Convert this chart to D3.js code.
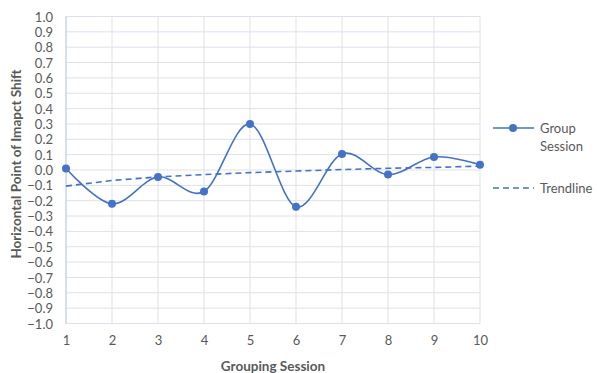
<!DOCTYPE html>
<html><head><meta charset="utf-8">
<script src="https://cdn.jsdelivr.net/npm/d3@7"></script>
<style>body{margin:0;background:#fff}svg{display:block}text{font-family:Lato,"Open Sans",sans-serif}</style>
</head><body>
<svg id="c" width="597" height="373"></svg>
<script>
const sessions = [1,2,3,4,5,6,7,8,9,10];
const groupSession = [0.01,-0.22,-0.045,-0.14,0.30,-0.24,0.105,-0.03,0.085,0.035];
const trendline = [-0.105,-0.068,-0.045,-0.03,-0.017,-0.007,0.003,0.011,0.017,0.025];
const yTicks = d3.range(-10,11).map(d=>d/10);

const svg = d3.select("#c");
const x = d3.scaleLinear().domain([1,10]).range([66,480]);
const y = d3.scaleLinear().domain([-1,1]).range([323.5,16.5]);
const grid = "#dde1ea", txt = "#595959", blue = "#4472c4";

const g = svg.append("g");
g.selectAll(".hg").data(yTicks).join("line")
  .attr("x1",x(1)).attr("x2",x(10)).attr("y1",d=>y(d)).attr("y2",d=>y(d))
  .attr("stroke",grid).attr("stroke-width",1);
g.selectAll(".vg").data(sessions.slice(1)).join("line")
  .attr("x1",d=>x(d)).attr("x2",d=>x(d)).attr("y1",y(1)).attr("y2",y(-1))
  .attr("stroke",grid).attr("stroke-width",1);
g.append("line").attr("x1",x(1)).attr("x2",x(1)).attr("y1",y(1)).attr("y2",y(-1))
  .attr("stroke","#c3cde3").attr("stroke-width",1.3);

const ya = d3.axisLeft(y).tickValues(yTicks).tickFormat(d3.format(".1f")).tickSize(0).tickPadding(13);
const yg = svg.append("g").attr("transform",`translate(${x(1)},0)`).call(ya);
yg.select(".domain").remove();
yg.selectAll("text").attr("fill",txt).style("font-size","13px").attr("dy","0.35em");

const xa = d3.axisBottom(x).tickValues(sessions).tickFormat(d3.format("d")).tickSize(0).tickPadding(12);
const xg = svg.append("g").attr("transform",`translate(0,${y(-1)})`).call(xa);
xg.select(".domain").remove();
xg.selectAll("text").attr("fill",txt).style("font-size","13px");

svg.append("text").attr("x",(x(1)+x(10))/2).attr("y",371).attr("text-anchor","middle")
  .attr("fill",txt).style("font-size","13.5px").style("font-weight","bold").text("Grouping Session");
svg.append("text").attr("transform",`translate(21,${(y(1)+y(-1))/2 - 6}) rotate(-90)`).attr("text-anchor","middle")
  .attr("fill",txt).style("font-size","13.5px").style("font-weight","bold").text("Horizontal Point of Imapct Shift");

const tl = d3.line().x((d,i)=>x(sessions[i])).y(d=>y(d));
svg.append("path").attr("d",tl(trendline)).attr("fill","none").attr("stroke",blue)
  .attr("stroke-width",1.6).attr("stroke-dasharray","6,4");

const sl = d3.line().x((d,i)=>x(sessions[i])).y(d=>y(d)).curve(d3.curveCatmullRom.alpha(0));
svg.append("path").attr("d",sl(groupSession)).attr("fill","none").attr("stroke",blue).attr("stroke-width",1.6);
svg.selectAll(".pt").data(groupSession).join("circle")
  .attr("cx",(d,i)=>x(sessions[i])).attr("cy",d=>y(d)).attr("r",4).attr("fill",blue);

const lg = svg.append("g");
lg.append("line").attr("x1",493).attr("x2",534).attr("y1",128).attr("y2",128).attr("stroke",blue).attr("stroke-width",1.6);
lg.append("circle").attr("cx",513).attr("cy",128).attr("r",4).attr("fill",blue);
lg.append("text").attr("x",540).attr("y",133).attr("fill",txt).style("font-size","13px").text("Group");
lg.append("text").attr("x",540).attr("y",151).attr("fill",txt).style("font-size","13px").text("Session");
lg.append("line").attr("x1",493).attr("x2",534).attr("y1",188).attr("y2",188).attr("stroke",blue)
  .attr("stroke-width",1.6).attr("stroke-dasharray","6,4");
lg.append("text").attr("x",540).attr("y",193).attr("fill",txt).style("font-size","13px").text("Trendline");
</script>
</body></html>
